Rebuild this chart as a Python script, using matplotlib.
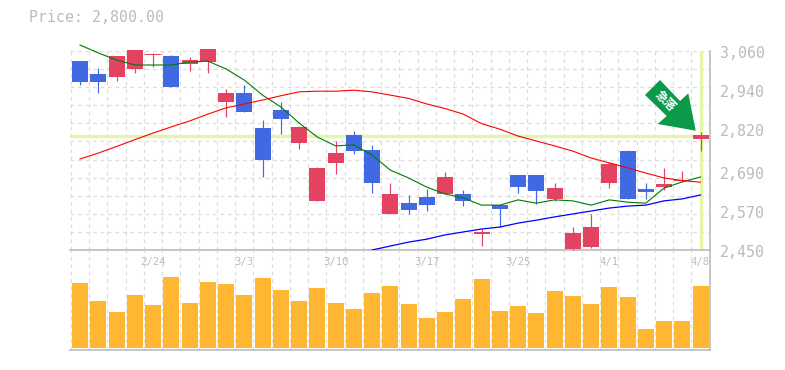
#!/usr/bin/env python3
"""Candlestick chart with moving averages and volume bars."""
import numpy as np
import matplotlib
matplotlib.use("Agg")
import matplotlib.pyplot as plt
from matplotlib.patches import Polygon

W, H = 785, 370

# one entry per candle
body_top = [3028, 2989, 3044, 3062, 3051, 3044, 3031, 3065, 2930, 2930,
            2824, 2879, 2827, 2701, 2747, 2802, 2756, 2622, 2594, 2613,
            2674, 2622, 2506, 2588, 2680, 2680, 2640, 2503, 2521, 2714,
            2753, 2637, 2652, 2665, 2802]
body_bot = [2964, 2964, 2979, 3004, 3047, 2949, 3019, 3025, 2903, 2872,
            2726, 2851, 2778, 2601, 2717, 2753, 2655, 2561, 2573, 2588,
            2622, 2601, 2500, 2576, 2643, 2631, 2607, 2454, 2460, 2656,
            2607, 2628, 2643, 2662, 2790]
high = [3028, 3007, 3044, 3062, 3053, 3047, 3040, 3065, 2943, 2955,
        2848, 2903, 2830, 2704, 2784, 2814, 2772, 2656, 2619, 2637,
        2689, 2634, 2515, 2588, 2680, 2680, 2656, 2521, 2561, 2720,
        2756, 2656, 2701, 2692, 2811]
low = [2955, 2930, 2967, 2992, 3010, 2949, 2998, 2992, 2857, 2872,
       2674, 2805, 2759, 2601, 2683, 2744, 2625, 2561, 2561, 2570,
       2622, 2585, 2463, 2521, 2625, 2591, 2601, 2451, 2457, 2640,
       2607, 2607, 2634, 2659, 2753]
is_red = [0, 0, 1, 1, 1, 0, 1, 1, 1, 0,
          0, 0, 1, 1, 1, 0, 0, 1, 0, 0,
          1, 0, 1, 0, 0, 0, 1, 1, 1, 1,
          0, 0, 1, 1, 1]

ma_red = [2729, 2747, 2767, 2788, 2808, 2827, 2845, 2866, 2885, 2897,
          2909, 2922, 2934, 2936, 2936, 2939, 2934, 2924, 2914, 2897,
          2883, 2866, 2837, 2820, 2799, 2784, 2769, 2753, 2732, 2717,
          2702, 2686, 2671, 2663, 2658]
ma_green = [3077, 3053, 3031, 3016, 3016, 3016, 3025, 3028, 3004, 2970,
            2924, 2888, 2839, 2796, 2769, 2772, 2741, 2695, 2671, 2643,
            2622, 2610, 2588, 2588, 2604, 2594, 2604, 2601, 2588, 2604,
            2597, 2594, 2640, 2659, 2674]
ma_blue = [np.nan] * 16 + [2451, 2463, 2475, 2484, 2497, 2506, 2515, 2521,
                           2533, 2542, 2552, 2561, 2570, 2579, 2585, 2588,
                           2601, 2607, 2619]

volume = [65, 47, 36, 53, 43, 71, 45, 66, 64, 53, 70, 58, 47, 60, 45, 39, 55, 62,
          44, 30, 36, 49, 69, 37, 42, 35, 57, 52, 44, 61, 51, 19, 27, 27, 62]

price_ticks = [3060, 2940, 2820, 2690, 2570, 2450]
last_price = 2800
date_idx = [4, 9, 14, 19, 24, 29, 34]
date_labels = ["2/24", "3/3", "3/10", "3/17", "3/25", "4/1", "4/8"]

GRID = "#dddddd"
EDGE = "#bbbbbb"
TEXT = "#bbbbbb"
RED = "#e34360"
BLUE = "#4169e1"
ORANGE = "#ffb733"
HILITE = "#e3f6a8"
FONT = "DejaVu Sans Mono"


def px_axes(fig, x0, y0, x1, y1):
    return fig.add_axes([x0 / W, 1 - y1 / H, (x1 - x0) / W, (y1 - y0) / H])


def main():
    fig = plt.figure(figsize=(W / 100, H / 100), dpi=100)
    xlim = (-0.55, 34.49)
    n = len(volume)
    xs = np.arange(n)
    edges = np.arange(n + 1) - 0.5

    ax = px_axes(fig, 70, 50.6, 709.5, 250.3)
    vol = px_axes(fig, 70, 250.3, 709.5, 350.3)

    for a in (ax, vol):
        a.set_xlim(xlim)
        a.set_xticks([])
        a.set_yticks([])
        a.set_facecolor("none")
        for s in ("left", "top"):
            a.spines[s].set_visible(False)
        for s in ("right", "bottom"):
            a.spines[s].set_color(EDGE)
            a.spines[s].set_linewidth(1.2)
        for e in edges:
            a.axvline(e, color=GRID, lw=0.9, ls=(0, (3, 3)), zorder=0)

    # price panel
    ax.set_ylim(2450, 3060)
    for g in np.linspace(2450, 3060, 12)[1:]:
        ax.axhline(g, color=GRID, lw=0.9, ls=(0, (3, 3)), zorder=0)
    ax.axhline(last_price, color=HILITE, lw=2.4, zorder=1)
    ax.plot([n - 1, n - 1], [2450, 3060], color=HILITE, lw=2.4, zorder=1)

    colors = [RED if r else BLUE for r in is_red]
    ax.vlines(xs, low, high, colors=colors, lw=0.85, zorder=3, clip_on=False)
    ax.bar(xs, np.array(body_top) - np.array(body_bot), bottom=body_bot,
           width=0.88, color=colors, zorder=3, clip_on=False)

    ax.plot(xs, ma_green, color="#007a00", lw=0.8, zorder=4, clip_on=False)
    ax.plot(xs, ma_red, color="#ff0000", lw=0.8, zorder=4)
    ax.plot(xs, ma_blue, color="#0000ff", lw=0.9, zorder=4)

    for p in price_ticks:
        ax.annotate(f"{p:,}", xy=(1, p), xycoords=("axes fraction", "data"),
                    xytext=(7.5, -1.8), textcoords="offset points",
                    ha="left", va="center", color=TEXT, fontsize=10.7,
                    family=FONT)

    # volume panel
    vol.set_ylim(-2.3, 97.7)
    vol.bar(xs, volume, width=0.88, color=ORANGE, zorder=3)
    for i, lab in zip(date_idx, date_labels):
        vol.annotate(lab, xy=(i, 1), xycoords=("data", "axes fraction"),
                     xytext=(0, -8.5), textcoords="offset points",
                     ha="center", va="center", color=TEXT, fontsize=7.6,
                     family=FONT, zorder=2)

    fig.text(29 / W, 1 - 18 / H, "Price: 2,800.00", color=TEXT, fontsize=10.7,
             family=FONT, ha="left", va="center")

    # buy/sell signal arrow
    arrow_px = np.array([(660, 80), (645, 95), (666.7, 116), (657.7, 124),
                         (695.7, 130.7), (688.3, 93.3), (680, 101)])
    arrow_fig = np.column_stack([arrow_px[:, 0] / W, 1 - arrow_px[:, 1] / H])
    fig.add_artist(Polygon(arrow_fig, closed=True, transform=fig.transFigure,
                           color="#0a9a4a", lw=0, zorder=6))
    fig.text(665.5 / W, 1 - 101.5 / H, "急落", color="white", fontsize=8.5,
             family="Noto Sans CJK JP", fontweight="bold", rotation=-45,
             ha="center", va="center", rotation_mode="anchor", zorder=7)

    fig.savefig("out.png", dpi=100)
    plt.close(fig)


if __name__ == "__main__":
    main()
